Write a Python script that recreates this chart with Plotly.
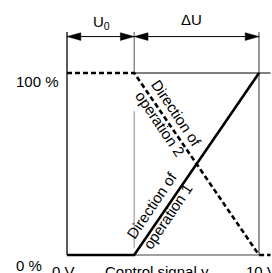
import plotly.graph_objects as go

# ---- data ----
U0 = 3.5            # start voltage (V)
U_MAX = 10.0        # end of control range (V)
X_END = 10.6        # drawing extends slightly past 10 V
op1_x = [0, U0, U_MAX]
op1_y = [0, 0, 100]
op2_x = [0, U0, U_MAX, X_END]
op2_y = [100, 100, 0, 0]
y_ticks = [0, 100]
y_tick_text = ["0 %", "100 %"]
x_tick_vals = [0, U_MAX]
x_tick_text = ["0 V", "10 V"]
x_title = "Control signal y"
DIM_Y = 120        # height of dimension arrows (%)
EXT_TOP = 122.5    # top of extension lines (%)

FONT = "Liberation Sans, Arial, Helvetica, sans-serif"
fig = go.Figure()

def seg(x, y, color="black", width=1.0, dash=None):
    fig.add_trace(go.Scatter(x=x, y=y, mode="lines", hoverinfo="skip",
                             line=dict(color=color, width=width, dash=dash),
                             showlegend=False))

# axes / reference lines
seg([0, 0], [0, EXT_TOP], color="#4a4a4a", width=1.8)                # y axis
seg([U0, U_MAX], [0, 0], color="#808080", width=1.6)                 # x axis part
seg([U0, X_END], [100, 100], color="black", width=1.2)               # 100 % ref
seg([U0, U0], [100, EXT_TOP], color="#555555", width=1.0)            # U0 ext top
seg([U0, U0], [79, 4], color="#888888", width=1.0)                   # U0 ext lower
seg([U_MAX, U_MAX], [0, EXT_TOP], color="#333333", width=1.0)        # 10 V ext

# operating lines
seg(op1_x, op1_y, color="black", width=2.6)
seg(op2_x, op2_y, color="black", width=2.6, dash="5px,3px")

# dimension arrows
seg([0, U_MAX], [DIM_Y, DIM_Y], color="black", width=1.0)
AL, AH = 0.72, 2.1
def tri(tip, direction):
    base = tip - direction * AL
    fig.add_trace(go.Scatter(x=[tip, base, base, tip], y=[DIM_Y, DIM_Y + AH, DIM_Y - AH, DIM_Y],
                             mode="lines", fill="toself", fillcolor="black",
                             line=dict(color="black", width=0.5), hoverinfo="skip",
                             showlegend=False))
tri(0, -1); tri(U0, 1); tri(U0, -1); tri(U_MAX, 1)

ann = []
def txt(x, y, s, xa="center", ya="middle", angle=0, size=15):
    ann.append(dict(x=x, y=y, text=s, showarrow=False, xanchor=xa, yanchor=ya,
                    textangle=angle, font=dict(family=FONT, size=size, color="black")))

txt(U0 / 2 + 0.05, 127.5, "U<sub>0</sub>")
txt(6.46, 129.3, "ΔU")
txt(-0.3, y_ticks[1] - 4.5, y_tick_text[1], xa="right")
txt(-1.2, y_ticks[0] - 5.5, y_tick_text[0], xa="right")
txt(x_tick_vals[0] - 0.16, -9.0, x_tick_text[0])
txt(x_tick_vals[1] + 0.13, -9.0, x_tick_text[1])
txt(4.69, -9.0, x_title)
txt(5.31, 74.7, "Direction of<br>operation 2", angle=56)
txt(4.84, 24.7, "Direction of<br>operation 1", angle=-56)

fig.update_layout(
    width=272, height=273, margin=dict(l=0, r=0, t=0, b=0),
    paper_bgcolor="white", plot_bgcolor="white",
    xaxis=dict(range=[-3.49, 10.677], visible=False, fixedrange=True),
    yaxis=dict(range=[-9.89, 140.1], visible=False, fixedrange=True),
    annotations=ann, showlegend=False, hovermode=False,
)
fig.write_html("out.html", config={"displayModeBar": False, "staticPlot": True},
               post_script="document.body.style.margin='0';document.body.style.overflow='hidden';")
